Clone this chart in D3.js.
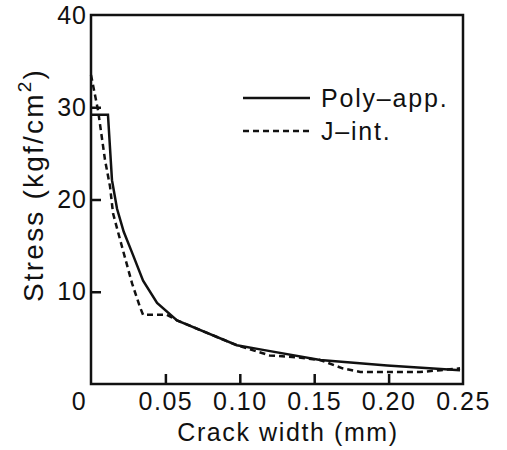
<!DOCTYPE html>
<html>
<head>
<meta charset="utf-8">
<script src="https://cdn.jsdelivr.net/npm/d3@7/dist/d3.min.js"></script>
<style>
  html, body { margin: 0; padding: 0; background: #fff; }
  svg { display: block; font-family: "Liberation Sans", Arial, Helvetica, sans-serif; }
</style>
</head>
<body>
<svg id="chart" width="507" height="450"></svg>
<script>
// ---- data ----
const polyX = [0, 0.0114, 0.0141, 0.0175, 0.0220, 0.0282, 0.0350, 0.0444, 0.0578, 0.0980, 0.1156, 0.1540, 0.1990, 0.2480];
const polyY = [29.2, 29.2, 22.1, 19.0, 16.5, 14.0, 11.2, 8.8, 6.9, 4.2, 3.7, 2.6, 2.0, 1.5];

const jX = [0, 0.0047, 0.0094, 0.0128, 0.0148, 0.0208, 0.0276, 0.0330, 0.0350, 0.0510, 0.0578, 0.0980, 0.1200, 0.1380, 0.1540, 0.1690, 0.1810, 0.2210, 0.2350, 0.2480];
const jY = [33.5, 29.7, 24.3, 21.4, 18.5, 14.9, 10.9, 8.3, 7.5, 7.5, 6.9, 4.2, 3.1, 2.9, 2.6, 1.7, 1.3, 1.3, 1.5, 1.7];

const xTicks = [0, 0.05, 0.10, 0.15, 0.20, 0.25];
const xTickLabels = ["0", "0.05", "0.10", "0.15", "0.20", "0.25"];
const yTicks = [10, 20, 30, 40];
const yTickLabels = ["10", "20", "30", "40"];

const seriesNames = ["Poly\u2013app.", "J\u2013int."];
const xTitle = "Crack width (mm)";

// ---- layout ----
const svg = d3.select("#chart");
const pL = 91, pR = 463, pT = 15, pB = 384;

const x = d3.scaleLinear().domain([0, 0.25]).range([pL, pR]);
const y = d3.scaleLinear().domain([0, 40]).range([pB, pT]);

const ink = "#111";

// frame
svg.append("rect")
  .attr("x", pL).attr("y", pT)
  .attr("width", pR - pL).attr("height", pB - pT)
  .attr("fill", "none").attr("stroke", ink).attr("stroke-width", 2.5);

// x axis (ticks inward)
const xAxis = d3.axisBottom(x)
  .tickValues(xTicks)
  .tickSize(-10)
  .tickPadding(8)
  .tickFormat((d, i) => xTickLabels[i]);
const gx = svg.append("g").attr("transform", `translate(0,${pB})`).call(xAxis);
gx.select(".domain").remove();
gx.selectAll(".tick line")
  .attr("stroke", ink).attr("stroke-width", 2.5)
  .attr("display", d => (d === 0 || d === 0.25) ? "none" : null);
gx.selectAll(".tick text")
  .attr("fill", ink).attr("font-size", 25).attr("font-family", "Liberation Sans, Arial, sans-serif")
  .attr("letter-spacing", 1.5)
  .attr("dx", d => d === 0 ? -12 : 0);

// y axis (ticks inward)
const yAxis = d3.axisLeft(y)
  .tickValues(yTicks)
  .tickSize(-10)
  .tickPadding(4)
  .tickFormat((d, i) => yTickLabels[i]);
const gy = svg.append("g").attr("transform", `translate(${pL},0)`).call(yAxis);
gy.select(".domain").remove();
gy.selectAll(".tick line")
  .attr("stroke", ink).attr("stroke-width", 2.5)
  .attr("display", d => d === 40 ? "none" : null);
gy.selectAll(".tick text")
  .attr("fill", ink).attr("font-size", 25).attr("font-family", "Liberation Sans, Arial, sans-serif")
  .attr("letter-spacing", 1);

// axis titles
svg.append("text")
  .attr("x", 288).attr("y", 441)
  .attr("text-anchor", "middle")
  .attr("font-size", 25).attr("letter-spacing", 1.6).attr("fill", ink)
  .text(xTitle);

const yt = svg.append("text")
  .attr("transform", `translate(43,185) rotate(-90)`)
  .attr("text-anchor", "middle")
  .attr("font-size", 28).attr("letter-spacing", 2.2).attr("fill", ink);
yt.append("tspan").text("Stress (kgf/cm");
yt.append("tspan").attr("font-size", 19).attr("dy", -12).text("2");
yt.append("tspan").attr("dy", 12).text(")");

// lines
const line = d3.line().x(d => x(d[0])).y(d => y(d[1]));
const polyData = polyX.map((v, i) => [v, polyY[i]]);
const jData = jX.map((v, i) => [v, jY[i]]);

svg.append("path").datum(jData)
  .attr("d", line).attr("fill", "none").attr("stroke", ink)
  .attr("stroke-width", 2.5).attr("stroke-dasharray", "6,4");
svg.append("path").datum(polyData)
  .attr("d", line).attr("fill", "none").attr("stroke", ink)
  .attr("stroke-width", 2.5).attr("stroke-linejoin", "miter");

// legend
const legend = svg.append("g");
const legendItems = [
  { name: seriesNames[0], dash: null, yy: 98 },
  { name: seriesNames[1], dash: "6,4", yy: 131 }
];
legendItems.forEach(it => {
  legend.append("line")
    .attr("x1", 243).attr("x2", 310).attr("y1", it.yy).attr("y2", it.yy)
    .attr("stroke", ink).attr("stroke-width", 2.5)
    .attr("stroke-dasharray", it.dash);
  legend.append("text")
    .attr("x", 321).attr("y", it.yy + 9)
    .attr("font-size", 25).attr("letter-spacing", 1.8).attr("fill", ink)
    .text(it.name);
});
</script>
</body>
</html>
